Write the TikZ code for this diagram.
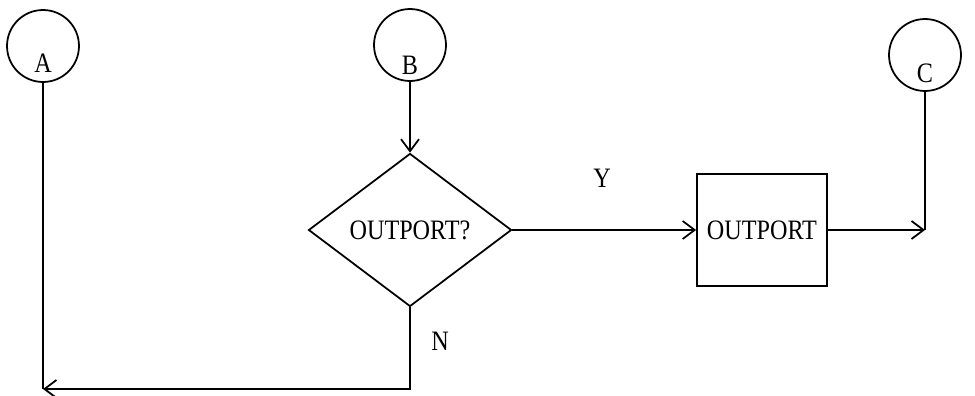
\documentclass[tikz,border=0pt]{standalone}
\usepackage{fontspec}
\setmainfont[FakeStretch=0.86]{Liberation Serif}
\usetikzlibrary{arrows.meta,shapes.geometric,calc}

\begin{document}
\begin{tikzpicture}[x=0.02cm, y=-0.02cm,
  conn/.style={circle, draw, line width=1pt, minimum size=1.44cm, inner sep=0pt},
  cname/.style={font=\fontsize{16}{18}\selectfont, inner sep=0pt},
  decide/.style={diamond, draw, line width=1pt, minimum width=4.06cm,
                 minimum height=3.06cm, inner sep=0pt, font=\fontsize{16}{18}\selectfont},
  proc/.style={rectangle, draw, line width=1pt, minimum width=2.6cm,
               minimum height=2.24cm, inner sep=0pt, font=\fontsize{16}{18}\selectfont},
  arr/.style={-{Straight Barb[length=2.4mm, width=3.6mm, line width=1pt]}, line width=1pt}
]
\useasboundingbox (0,0) rectangle (975,396);

% Connectors
\node[conn] (A) at (43,46) {};
\node[cname] (Alab) at (43,63) {A};
\node[conn] (B) at (410,45) {};
\node[cname] (Blab) at (410,65) {B};
\node[conn] (C) at (925,55) {};
\node[cname] (Clab) at (925,73) {C};

% Decision and process
\node[decide] (ask) at (410,230) {OUTPORT?};
\node[proc] (out) at (762,230) {OUTPORT};

% Branch labels
\node[cname] (yes) at (602,178) {Y};
\node[cname] (no) at (440,341) {N};

% Corner points
\coordinate (cA) at (43,389);
\coordinate (cC) at (C |- out);

% Arrows
\draw[arr] (B.south) -- (ask.north);
\draw[arr] (ask.east) -- (out.west);
\draw[line width=1pt] (C.south) -- (cC);
\draw[arr] (out.east) -- (cC);
\draw[line width=1pt] (A.south) -- (cA);
\draw[arr] (ask.south) |- (cA);
\end{tikzpicture}
\end{document}
